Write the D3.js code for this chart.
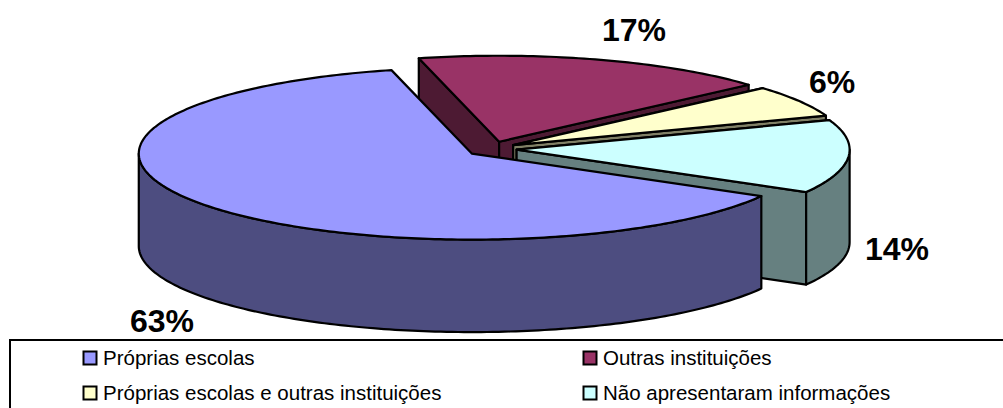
<!DOCTYPE html>
<html>
<head>
<meta charset="utf-8">
<script src="https://cdn.jsdelivr.net/npm/d3@7"></script>
<style>
  html, body { margin: 0; padding: 0; background: #fff; overflow: hidden; }
  svg { display: block; }
  text { font-family: "Liberation Sans", Arial, sans-serif; fill: #000; }
</style>
</head>
<body>
<svg id="chart" width="1003" height="408"></svg>
<script>
const categories = ["Próprias escolas", "Outras instituições", "Próprias escolas e outras instituições", "Não apresentaram informações"]
const values = [62.9, 17.36, 5.94, 13.8]
const valueLabels = ["63%", "17%", "6%", "14%"]
const topColors = ["#9999ff", "#993366", "#ffffcc", "#ccffff"]
const sideColors = ["#4d4d80", "#4d1a33", "#808066", "#668080"]

const labelAnchors = [[162, 332], [634, 41], [832, 93], [897, 260]]
const legendRows = [[83, 358], [583, 358], [83, 393], [583, 393]]

const svg = d3.select("#chart")

const cx = 491.7, cy = 149, rx = 333, ry = 86, depth = 92.5
const explodeX = 25, explodeY = 7.6
const rad = Math.PI / 180

const pie = d3.pie().sort(null)
  .startAngle(119.6 * rad)
  .endAngle((119.6 + 360) * rad)

const arcs = pie(values).map((d, i) => {
  const mid = (d.startAngle + d.endAngle) / 2
  return {
    i,
    a0: d.startAngle,
    a1: d.endAngle,
    ox: cx + explodeX * Math.sin(mid),
    oy: cy - explodeY * Math.cos(mid)
  }
})

const line = d3.line()
const rim = (s, a) => [s.ox + rx * Math.sin(a), s.oy - ry * Math.cos(a)]
const angles = (a0, a1) => {
  const n = Math.max(2, Math.ceil((a1 - a0) / (1 * rad)))
  return d3.range(n + 1).map(k => a0 + (a1 - a0) * k / n)
}
const down = p => [p[0], p[1] + depth]

function drawPoly(pts, fill) {
  svg.append("path")
    .attr("d", line(pts) + "Z")
    .attr("fill", fill)
    .attr("stroke", "#000")
    .attr("stroke-width", 2.2)
    .attr("stroke-linejoin", "round")
}

// parts of the rim that face the viewer: 90deg to 270deg clockwise from the top
function frontRange(s) {
  const out = []
  for (const k of [0, 1]) {
    const lo = Math.max(s.a0, (90 + 360 * k) * rad)
    const hi = Math.min(s.a1, (270 + 360 * k) * rad)
    if (hi > lo) out.push([lo, hi])
  }
  return out
}

// far slices first, the big one goes on top
const order = [1, 2, 3, 0]
order.forEach(i => {
  const s = arcs[i]
  const apex = [s.ox, s.oy]

  if (i !== 0) {
    const p0 = rim(s, s.a0), p1 = rim(s, s.a1)
    drawPoly([apex, p0, down(p0), down(apex)], sideColors[i])
    drawPoly([apex, p1, down(p1), down(apex)], sideColors[i])
  }

  frontRange(s).forEach(r => {
    const upper = angles(r[0], r[1]).map(a => rim(s, a))
    drawPoly(upper.concat(upper.slice().reverse().map(down)), sideColors[i])
  })

  const top = angles(s.a0, s.a1).map(a => rim(s, a))
  drawPoly([apex].concat(top), topColors[i])
})

svg.selectAll("text.pct")
  .data(valueLabels)
  .enter().append("text")
  .attr("class", "pct")
  .attr("x", (d, i) => labelAnchors[i][0])
  .attr("y", (d, i) => labelAnchors[i][1])
  .attr("text-anchor", "middle")
  .attr("font-size", 32)
  .attr("font-weight", "bold")
  .text(d => d)

// legend frame runs off the right and bottom of the picture
svg.append("rect")
  .attr("x", 10).attr("y", 340)
  .attr("width", 1010).attr("height", 90)
  .attr("fill", "#fff")
  .attr("stroke", "#000")
  .attr("stroke-width", 2)

const legend = svg.selectAll("g.legend")
  .data(categories)
  .enter().append("g")
  .attr("class", "legend")
  .attr("transform", (d, i) => "translate(" + legendRows[i][0] + "," + legendRows[i][1] + ")")

legend.append("rect")
  .attr("x", 0.5).attr("y", -6.5)
  .attr("width", 13).attr("height", 13)
  .attr("fill", (d, i) => topColors[i])
  .attr("stroke", "#000")
  .attr("stroke-width", 2)

legend.append("text")
  .attr("x", 20)
  .attr("y", 7)
  .attr("font-size", 20.5)
  .text(d => d)
</script>
</body>
</html>
